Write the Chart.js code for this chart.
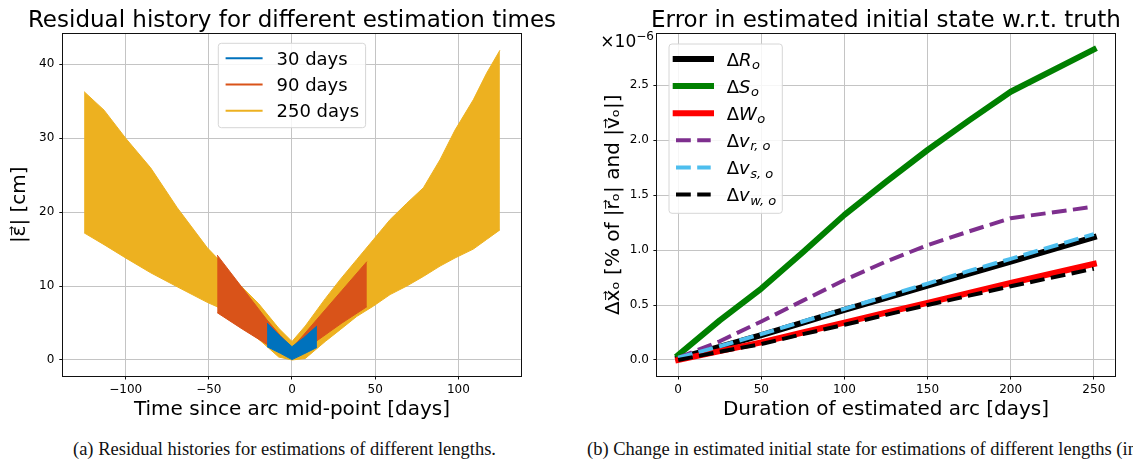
<!DOCTYPE html>
<html>
<head>
<meta charset="utf-8">
<script src="https://cdn.jsdelivr.net/npm/chart.js@4.4.1/dist/chart.umd.min.js"></script>
<style>
  html, body { margin: 0; padding: 0; background: #fff; }
  body { width: 1133px; height: 463px; position: relative; overflow: hidden; }
  canvas { position: absolute; top: 0; }
  #resid { left: 0; }
  #state { left: 560px; }
  .cap { position: absolute; top: 440px; font: 18.5px "Liberation Serif", "Times New Roman", serif; line-height: 1; white-space: nowrap; color: #111; }
</style>
</head>
<body>
<canvas id="resid" width="560" height="430"></canvas>
<canvas id="state" width="573" height="430"></canvas>
<div class="cap" style="left:0;width:569px;text-align:center">(a) Residual histories for estimations of different lengths.</div>
<div class="cap" style="left:587px">(b) Change in estimated initial state for estimations of different lengths (in %).</div>
<script>
// ---- left panel: residual envelopes (cm) vs time since mid-point (days)
const residNames = ["30 days", "90 days", "250 days"];

const time30 = [-15, -7, 0, 7, 15];
const resid30Upper = [5.0, 3.2, 1.8, 3.0, 4.6];
const resid30Lower = [1.8, 0.9, 0.05, 0.8, 1.7];

const time90 = [-45, -30, -15, -7, 0, 7, 15, 30, 45];
const resid90Upper = [14.2, 9.8, 5.4, 3.3, 1.6, 3.4, 5.5, 9.4, 13.3];
const resid90Lower = [6.4, 4.2, 2.1, 1.0, 0.3, 1.2, 2.6, 5.0, 7.2];

const time250 = [-125, -113, -100, -85, -69, -51, -45, -35, -20, -8, 0, 8, 20, 29, 39, 49, 59, 69, 79, 89, 98, 109, 117, 125];
const resid250Upper = [36.3, 33.8, 30.0, 26.0, 20.6, 15.2, 13.8, 11.0, 7.6, 4.3, 2.5, 4.6, 8.3, 10.9, 13.6, 16.3, 19.0, 21.2, 23.3, 27.1, 31.1, 35.2, 38.8, 41.9];
const resid250Lower = [17.2, 15.6, 13.8, 11.8, 9.9, 7.8, 7.2, 5.5, 2.8, 0.4, 0.0, 0.2, 2.5, 4.1, 5.9, 7.3, 8.85, 10.0, 11.3, 12.7, 13.8, 15.0, 16.3, 17.6];

const residTicksX = [-100, -50, 0, 50, 100];
const residTicksY = [0, 10, 20, 30, 40];

// ---- right panel: initial state error (x1e-6 %) vs arc duration (days)
const stateLabels = ["ΔR_o", "ΔS_o", "ΔW_o", "Δv_r, o", "Δv_s, o", "Δv_w, o"];
const arcDays = [0, 25, 50, 75, 100, 125, 150, 175, 200, 250];
const deltaR = [0.014, 0.12, 0.227, 0.34, 0.455, 0.566, 0.677, 0.786, 0.895, 1.117];
const deltaS = [0.045, 0.36, 0.65, 0.98, 1.32, 1.62, 1.91, 2.18, 2.44, 2.824];
const deltaW = [0.0, 0.08, 0.16, 0.25, 0.34, 0.43, 0.52, 0.61, 0.70, 0.874];
const deltaVr = [0.02, 0.17, 0.35, 0.54, 0.727, 0.895, 1.045, 1.17, 1.29, 1.394];
const deltaVs = [0.02, 0.125, 0.235, 0.35, 0.465, 0.58, 0.695, 0.81, 0.92, 1.145];
const deltaVw = [0.0, 0.075, 0.145, 0.235, 0.32, 0.41, 0.50, 0.585, 0.67, 0.83];

const durationTicks = [0, 50, 100, 150, 200, 250];
const errorTicks = [0, 0.5, 1.0, 1.5, 2.0, 2.5];

// styles
const residColors = ["#0072BD", "#D95319", "#EDB120"];
const stateColors = ["#000000", "#008000", "#FF0000", "#7E2F8E", "#4DBEEE", "#000000"];
const stateDashed = [false, false, false, true, true, true];
const gridColor = "#c4c4c4";
const font = "'DejaVu Sans', sans-serif";

Chart.defaults.font.family = font;
Chart.defaults.color = "#000";

const toPoints = (xs, ys) => xs.map((x, i) => ({ x: x, y: ys[i] }));
const fmtMinus = (v) => (v < 0 ? "\u2212" + Math.abs(v) : String(v));
const fixTicks = (values) => (scale) => {
  scale.ticks = values.map((v) => ({ value: v }));
};

// frame round the plot + title centred over the plot (not the canvas)
const framePlugin = {
  id: "frame",
  afterDatasetsDraw(chart) {
    const { ctx, chartArea: a } = chart;
    ctx.save();
    ctx.strokeStyle = "#111";
    ctx.lineWidth = 1;
    const l = Math.round(a.left) - 0.5, t = Math.round(a.top) - 0.5;
    const r = Math.round(a.right) + 0.5, b = Math.round(a.bottom) + 0.5;
    ctx.strokeRect(l, t, r - l, b - t);
    ctx.restore();
  },
  afterDraw(chart, args, opts) {
    const { ctx, chartArea: a } = chart;
    ctx.save();
    ctx.fillStyle = "#000";
    ctx.font = "23px " + font;
    ctx.textAlign = "center";
    ctx.textBaseline = "alphabetic";
    ctx.fillText(opts.text, (a.left + a.right) / 2, 27);
    ctx.restore();
  },
};

function legendBox(ctx, x, y, w, h) {
  const r = 3;
  ctx.beginPath();
  ctx.moveTo(x + r, y);
  ctx.arcTo(x + w, y, x + w, y + h, r);
  ctx.arcTo(x + w, y + h, x, y + h, r);
  ctx.arcTo(x, y + h, x, y, r);
  ctx.arcTo(x, y, x + w, y, r);
  ctx.closePath();
  ctx.fillStyle = "rgba(255,255,255,0.85)";
  ctx.fill();
  ctx.strokeStyle = "#d6d6d6";
  ctx.lineWidth = 1;
  ctx.stroke();
}

const residLegend = {
  id: "residLegend",
  afterDraw(chart) {
    const { ctx, chartArea: a } = chart;
    const x = a.left + 155, y = a.top + 9.3;
    ctx.save();
    legendBox(ctx, x, y, 147.3, 84.4);
    residNames.forEach((name, i) => {
      const ry = y + 15 + i * 26.2;
      ctx.strokeStyle = residColors[i];
      ctx.lineWidth = 2;
      ctx.beginPath();
      ctx.moveTo(x + 7.3, ry);
      ctx.lineTo(x + 44.3, ry);
      ctx.stroke();
      ctx.fillStyle = "#000";
      ctx.font = "18px " + font;
      ctx.textBaseline = "alphabetic";
      ctx.fillText(name, x + 58.2, ry + 6.6);
    });
    ctx.restore();
  },
};

const stateLegend = {
  id: "stateLegend",
  afterDraw(chart) {
    const { ctx, chartArea: a } = chart;
    const x = a.left + 11.6, y = a.top + 10;
    ctx.save();
    legendBox(ctx, x, y, 113.3, 169.3);
    stateLabels.forEach((label, i) => {
      const ry = y + 15 + i * 27.1;
      ctx.strokeStyle = stateColors[i];
      if (stateDashed[i]) {
        ctx.lineWidth = 4;
        ctx.lineCap = "butt";
        ctx.setLineDash([14.8, 6.4]);
        ctx.beginPath();
        ctx.moveTo(x + 7, ry);
        ctx.lineTo(x + 41.7, ry);
      } else {
        ctx.lineWidth = 6;
        ctx.lineCap = "square";
        ctx.setLineDash([]);
        ctx.beginPath();
        ctx.moveTo(x + 6.7, ry);
        ctx.lineTo(x + 42, ry);
      }
      ctx.stroke();
      ctx.setLineDash([]);
      const [main, sub] = label.split("_");
      let tx = x + 57.7;
      const base = ry + 6.6;
      ctx.fillStyle = "#000";
      ctx.textBaseline = "alphabetic";
      ctx.font = "18px " + font;
      ctx.fillText(main[0], tx, base);
      tx += ctx.measureText(main[0]).width;
      ctx.font = "italic 18px " + font;
      ctx.fillText(main.slice(1), tx, base);
      tx += ctx.measureText(main.slice(1)).width;
      ctx.font = "italic 13px " + font;
      ctx.fillText(sub, tx + 0.5, base + 3.5);
    });
    // offset multiplier text
    ctx.fillStyle = "#000";
    ctx.textBaseline = "alphabetic";
    ctx.font = "12px " + font;
    const supW = ctx.measureText("\u22126").width;
    ctx.font = "17px " + font;
    const mainW = ctx.measureText("\u00d710").width;
    const endX = a.left - 3.5;
    const bx = endX - supW - mainW;
    ctx.fillText("\u00d710", bx, a.top + 12.9);
    ctx.font = "12px " + font;
    ctx.fillText("\u22126", bx + mainW, a.top + 5.5);
    ctx.restore();
  },
};

function axis(opts) {
  return {
    type: "linear",
    min: opts.min,
    max: opts.max,
    afterBuildTicks: fixTicks(opts.ticks),
    afterFit: opts.fit,
    grid: { color: gridColor, lineWidth: 1, tickLength: 4, tickColor: "#111", tickWidth: 1 },
    border: { display: false },
    ticks: { autoSkip: false, maxRotation: 0, padding: opts.pad, color: "#000", font: { size: 12 }, callback: opts.fmt },
    title: { display: true, text: opts.title, color: "#000", font: { size: 20 }, padding: opts.titlePad },
  };
}

// ---- left chart
const bands = [
  { x: time30, up: resid30Upper, lo: resid30Lower },
  { x: time90, up: resid90Upper, lo: resid90Lower },
  { x: time250, up: resid250Upper, lo: resid250Lower },
];
const residDatasets = [];
bands.forEach((b, i) => {
  residDatasets.push({
    label: residNames[i],
    data: toPoints(b.x, b.up),
    borderColor: residColors[i],
    backgroundColor: residColors[i],
    borderWidth: 1,
    pointRadius: 0,
    fill: "+1",
  });
  residDatasets.push({
    label: residNames[i] + " lower",
    data: toPoints(b.x, b.lo),
    borderColor: residColors[i],
    borderWidth: 1,
    pointRadius: 0,
    fill: false,
  });
});

new Chart(document.getElementById("resid"), {
  type: "line",
  data: { datasets: residDatasets },
  options: {
    responsive: false,
    animation: false,
    layout: { padding: { left: 0, right: 39.3, top: 34, bottom: 0 } },
    scales: {
      x: axis({
        min: -137.5, max: 137.5, ticks: residTicksX, pad: 3, fmt: fmtMinus,
        fit: (s) => { s.height = 54.5; },
        title: "Time since arc mid-point [days]", titlePad: { top: 0, bottom: 8 },
      }),
      y: axis({
        min: -2.1, max: 44.1, ticks: residTicksY, pad: 5, fmt: fmtMinus,
        fit: (s) => { s.width = 63.3; },
        title: "|ε⃗| [cm]", titlePad: { top: 8, bottom: 0 },
      }),
    },
    plugins: {
      legend: { display: false },
      tooltip: { enabled: false },
      frame: { text: "Residual history for different estimation times" },
    },
  },
  plugins: [framePlugin, residLegend],
});

// ---- right chart
const stateSeries = [deltaR, deltaS, deltaW, deltaVr, deltaVs, deltaVw];
const stateDatasets = stateSeries.map((vals, i) => ({
  label: stateLabels[i],
  data: toPoints(arcDays, vals),
  borderColor: stateColors[i],
  borderWidth: stateDashed[i] ? 4 : 6,
  borderDash: stateDashed[i] ? [14.8, 6.4] : [],
  borderCapStyle: stateDashed[i] ? "butt" : "square",
  borderJoinStyle: "round",
  pointRadius: 0,
  fill: false,
  order: stateSeries.length - i,
}));

new Chart(document.getElementById("state"), {
  type: "line",
  data: { datasets: stateDatasets },
  options: {
    responsive: false,
    animation: false,
    layout: { padding: { left: 0, right: 18.4, top: 34, bottom: 0 } },
    scales: {
      x: axis({
        min: -12.5, max: 262.5, ticks: durationTicks, pad: 3, fmt: (v) => String(v),
        fit: (s) => { s.height = 54.5; },
        title: "Duration of estimated arc [days]", titlePad: { top: 0, bottom: 8 },
      }),
      y: axis({
        min: -0.1412, max: 2.9652, ticks: errorTicks, pad: 4.5, fmt: (v) => v.toFixed(1),
        fit: (s) => { s.width = 97.4; },
        title: "Δx⃗ₒ [% of |r⃗ₒ| and |v⃗ₒ|]", titlePad: { top: 42, bottom: 0 },
      }),
    },
    plugins: {
      legend: { display: false },
      tooltip: { enabled: false },
      frame: { text: "Error in estimated initial state w.r.t. truth" },
    },
  },
  plugins: [framePlugin, stateLegend],
});
</script>
</body>
</html>
